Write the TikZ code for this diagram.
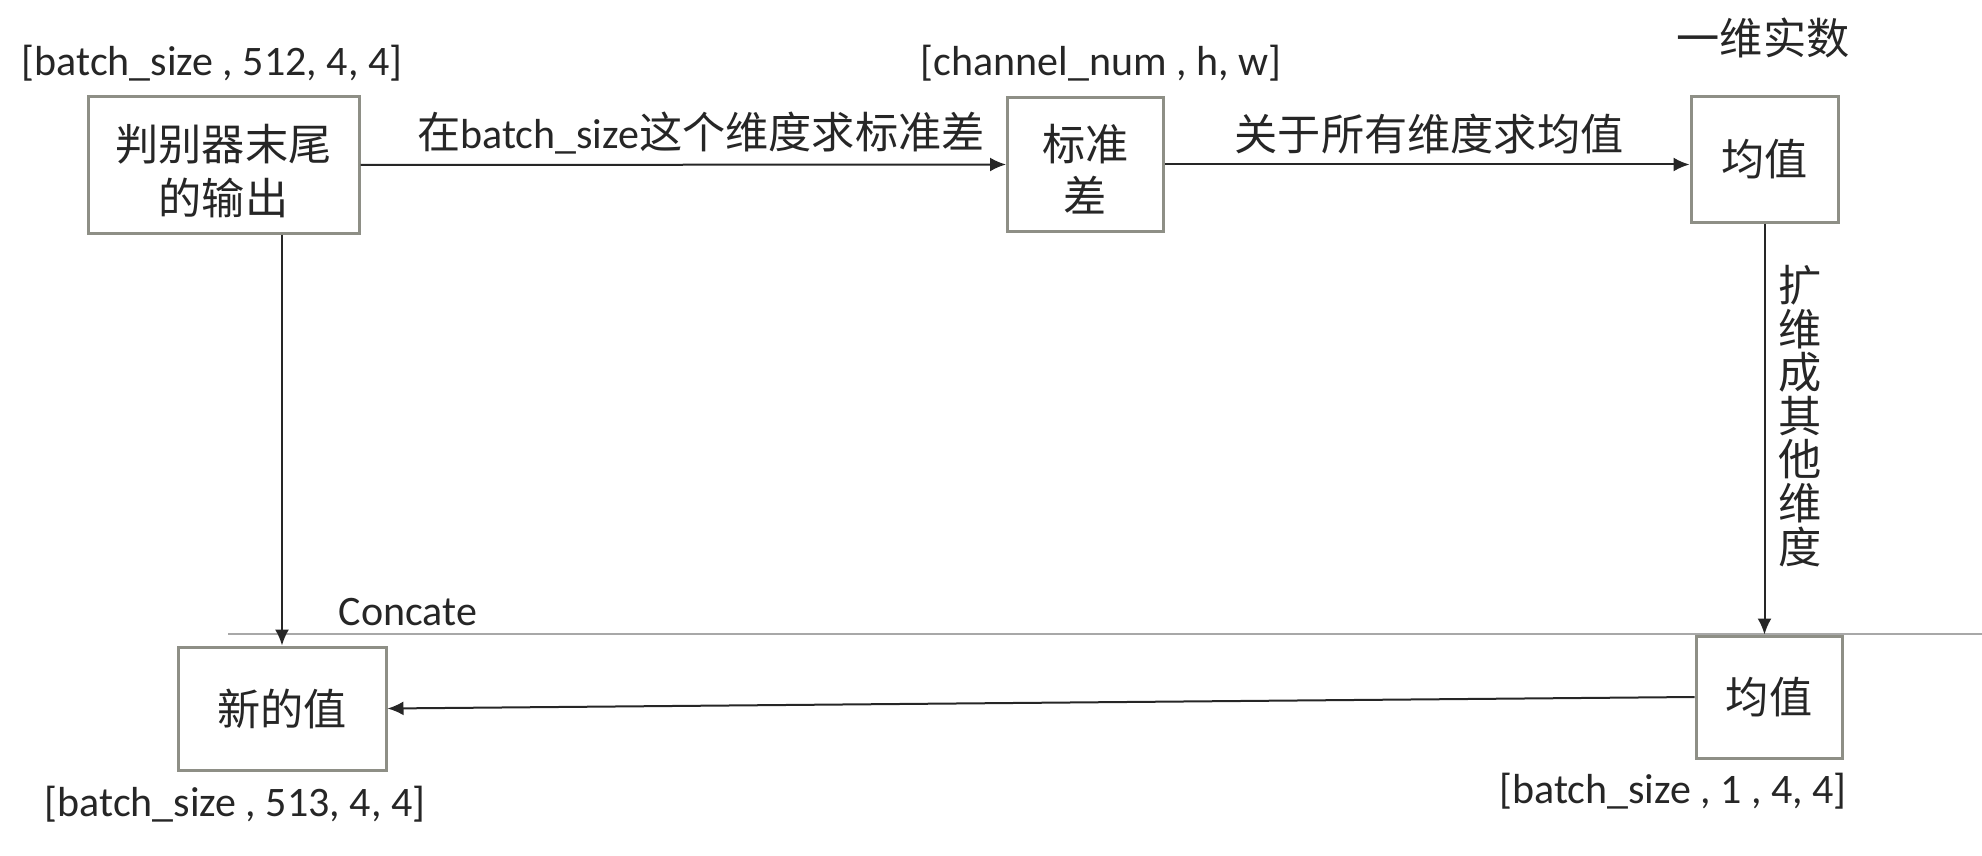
\documentclass[tikz,border=0pt]{standalone}
\usepackage{fontspec}
\setmainfont{Carlito}
\newfontfamily\cjk{Noto Sans CJK SC}
\usetikzlibrary{arrows.meta}
\definecolor{boxgray}{HTML}{8E8F86}
\definecolor{txt}{HTML}{262626}
\definecolor{thinline}{HTML}{A8A8A8}
\newcommand{\twolines}[2]{\raisebox{-5.7pt}[\height][\depth]{\begin{tabular}{@{}c@{}}#1\\#2\end{tabular}}}
\begin{document}
\begin{tikzpicture}[x=0.5pt,y=-0.5pt,
  font=\fontsize{21}{27}\selectfont, text=txt,
  cjkf/.style={font=\cjk\fontsize{21.6}{27}\selectfont},
  box/.style={draw=boxgray, line width=1.5pt, fill=white, align=center, inner sep=0pt, cjkf},
  lbl/.style={inner sep=0pt},
  arr/.style={draw=black!85, line width=1pt, -{Latex[length=8pt,width=7pt]}},
]
\path[use as bounding box] (0,0) rectangle (1982,856);

% boxes
\node[box, minimum width=135.5pt, minimum height=68pt] (b1) at (223.5,165) {\twolines{判别器末尾}{的输出}};
\node[box, minimum width=78pt, minimum height=67pt, font=\cjk\fontsize{21.6}{25.5}\selectfont] (b2) at (1085.5,164.5) {\twolines{标准}{差}};
\node[box, minimum width=73.5pt, minimum height=62.5pt] (m1) at (1764.5,159.5) {均值};
\node[box, minimum width=104pt, minimum height=61.5pt] (new) at (282,708.5) {新的值};
\node[box, minimum width=73pt, minimum height=61pt] (m2) at (1769,697) {均值};

% shape labels
\node[lbl] (l1) at (212,63) {[batch\_size , 512, 4, 4]};
\node[lbl] (l2) at (1101,63) {[channel\_num , h, w]};
\node[lbl, cjkf] (l3) at (1763,38) {一维实数};
\node[lbl] (l4) at (235,804) {[batch\_size , 513, 4, 4]};
\node[lbl] (l5) at (1673,791) {[batch\_size , 1 , 4, 4]};

% concat line
\coordinate (cl) at (228,634);
\coordinate (cr) at (1982,634);
\draw[thinline, line width=0.7pt] (cl) -- (cr);
\node[lbl] (cc) at (408,612) {Concate};

% arrows
\draw[arr] (b1.east) -- (b2.west);
\node[lbl] (a1) at (701,133) {{\cjk\fontsize{21.6}{27}\selectfont 在}batch\_size{\cjk\fontsize{21.6}{27}\selectfont 这个维度求标准差}};
\draw[arr] (b2.east) -- (b2.east -| m1.west);
\node[lbl, cjkf] (a2) at (1429,134) {关于所有维度求均值};
\draw[arr] (m1.south) -- (m1.south |- m2.north);
\node[lbl, align=center, font=\cjk\fontsize{21.6}{21.8}\selectfont] (a3) at (1800,416) {扩\\维\\成\\其\\他\\维\\度};
\draw[arr] (new.north |- b1.south) -- (new.north);
\draw[arr] (m2.west) -- (new.east);
\end{tikzpicture}
\end{document}
